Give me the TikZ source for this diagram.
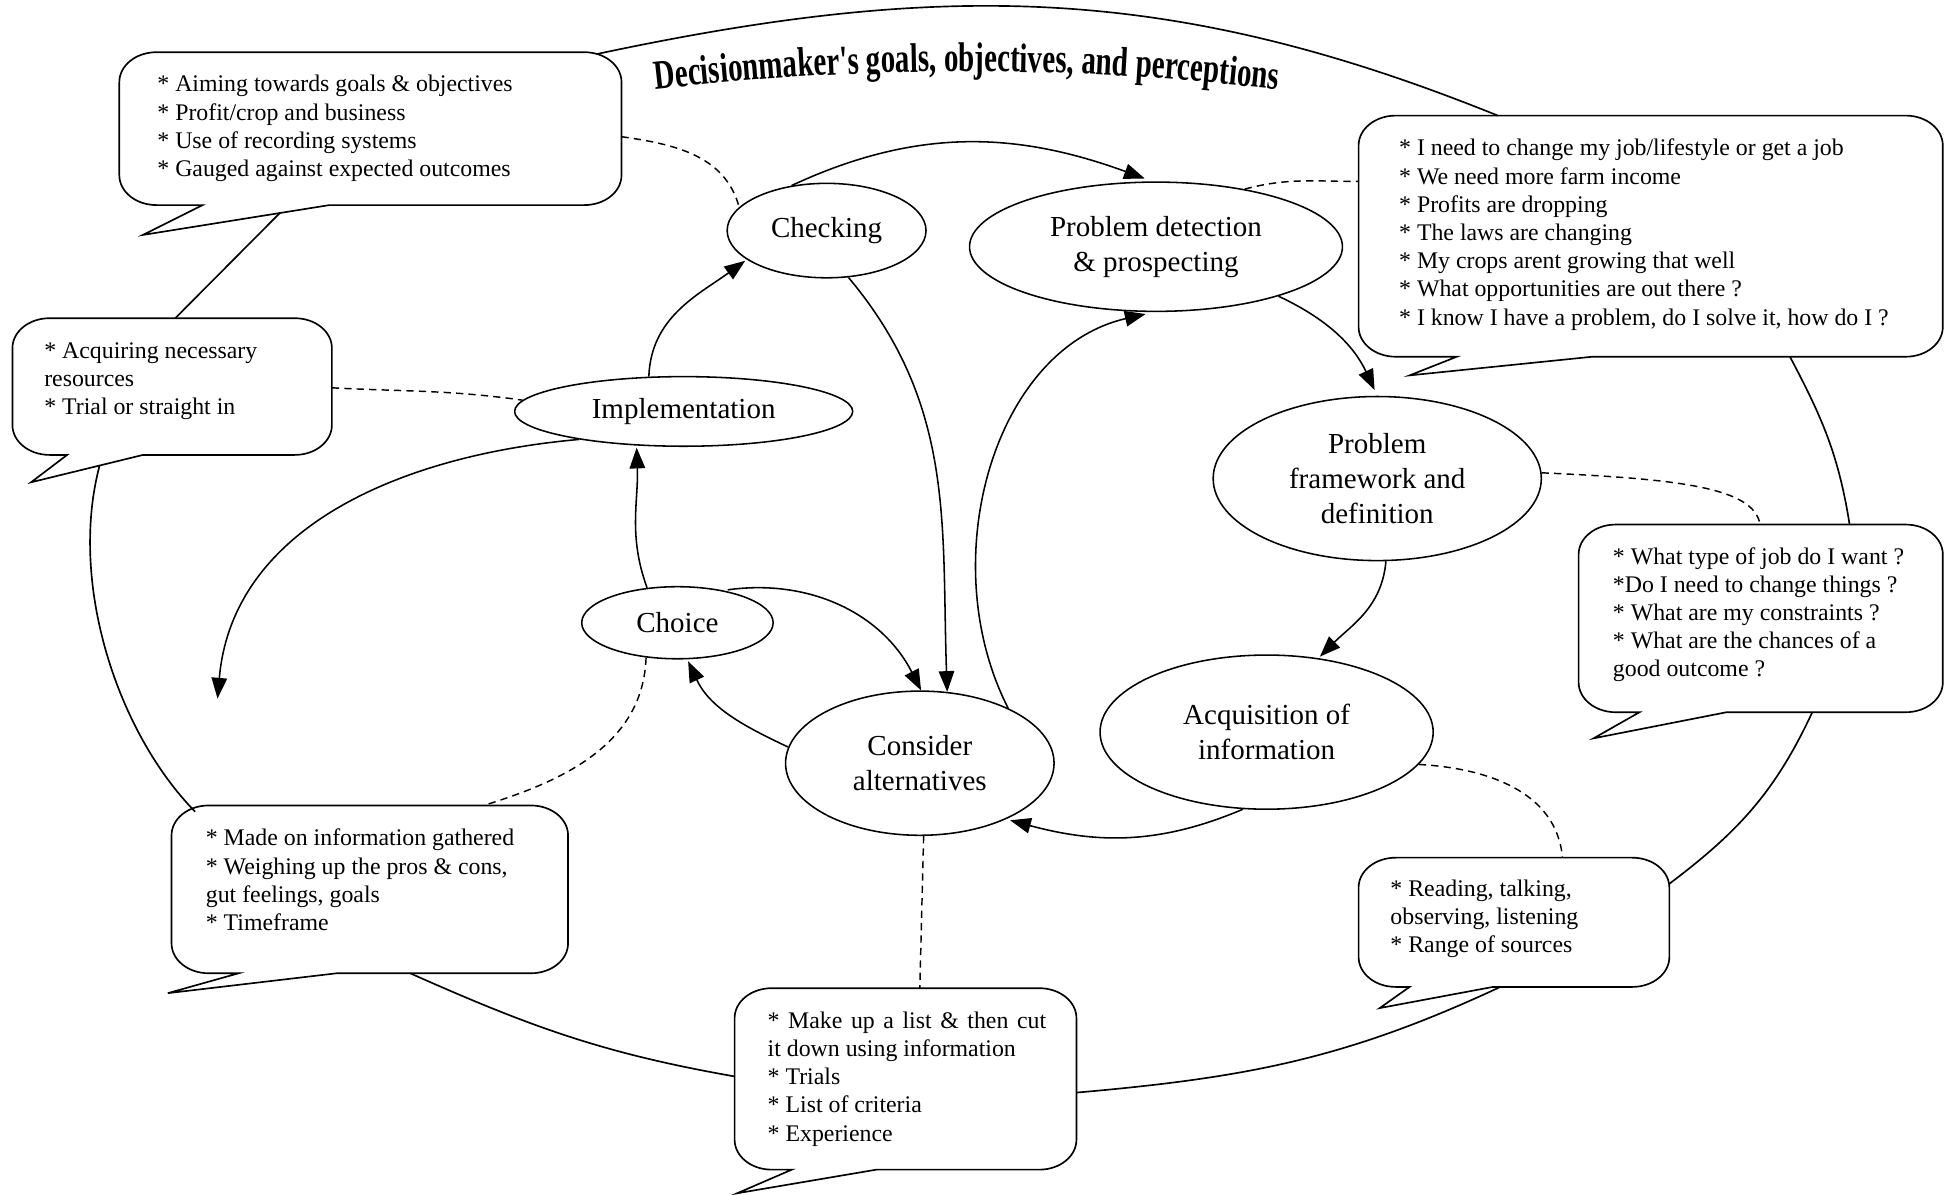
\documentclass[tikz,border=0pt]{standalone}
\usepackage{fontspec}
\setmainfont{Liberation Serif}
\newfontfamily\titlefont{Liberation Serif}[FakeStretch=0.7]
\usetikzlibrary{shapes.geometric,arrows.meta,decorations.text}

% rounded callout with a tail: x1 y1 x2 y2 tailLeftX tipX tipY tailRightX
\newcommand{\cbub}[8]{%
  \draw[cb] (#6,#7) -- (#8,#4) -- ({#3-30},#4)
    .. controls ({#3-13},#4) and (#3,{#4-11}) .. (#3,{#4-24})
    -- (#3,{#2+24})
    .. controls (#3,{#2+11}) and ({#3-13},#2) .. ({#3-30},#2)
    -- ({#1+30},#2)
    .. controls ({#1+13},#2) and (#1,{#2+11}) .. (#1,{#2+24})
    -- (#1,{#4-24})
    .. controls (#1,{#4-11}) and ({#1+13},#4) .. ({#1+30},#4)
    -- (#5,#4) -- cycle;}

\begin{document}
\begin{tikzpicture}[x=0.6pt,y=-0.6pt,line width=0.75pt,
  ell/.style={ellipse,draw,inner sep=0pt,align=center,
    font=\fontsize{14}{16.8}\selectfont},
  cb/.style={draw,line width=0.8pt,fill=white},
  ctext/.style={anchor=base west,align=left,inner sep=0pt,
    font=\fontsize{11.5}{13.6}\selectfont},
  arr/.style={-{Triangle[length=10pt,width=7.5pt]},line width=0.75pt},
  dsh/.style={dash pattern=on 3.5pt off 2.5pt,line width=0.7pt},
  outerline/.style={line width=0.8pt}]
\useasboundingbox (0,0) rectangle (1568,961);

% ---------- callouts ----------
\cbub{96}{42}{500}{165}{163}{115}{189}{265}
\cbub{10}{256}{267}{366}{54}{25}{388}{115}
\cbub{1093}{93}{1563}{287}{1172}{1134}{302}{1281}
\cbub{1270}{422}{1563}{573}{1319}{1282}{594}{1389}
\cbub{138}{648}{457}{783}{192}{135}{799}{271}
\cbub{591}{795}{866}{941}{637}{593}{960}{705}
\cbub{1093}{690}{1343}{794}{1134}{1110}{811}{1201}

% (base anchor = baseline of the last line)
\node[ctext] (tltext) at (126,142) {* Aiming towards goals \& objectives\\{}* Profit/crop and business\\{}* Use of recording systems\\{}* Gauged against expected outcomes};
\node[ctext] (actext) at (35,333.5) {* Acquiring necessary\\resources\\{}* Trial or straight in};
\node[ctext] (trtext) at (1125,261.5) {* I need to change my job/lifestyle or get a job\\{}* We need more farm income\\{}* Profits are dropping\\{}* The laws are changing\\{}* My crops arent growing that well\\{}* What opportunities are out there ?\\{}* I know I have a problem, do I solve it, how do I ?};
\node[ctext] (rttext) at (1297,544.5) {* What type of job do I want ?\\{}*Do I need to change things ?\\{}* What are my constraints ?\\{}* What are the chances of a\\good outcome ?};
\node[ctext] (motext) at (165,748.5) {* Made on information gathered\\{}* Weighing up the pros \& cons,\\gut feelings, goals\\{}* Timeframe};
\node[ctext] (mutext) at (617,918) {\makebox[134.4pt][s]{* Make up a list \& then cut}\\it down using information\\{}* Trials\\{}* List of criteria\\{}* Experience};
\node[ctext] (rdtext) at (1118,766.5) {* Reading, talking,\\observing, listening\\{}* Range of sources};

% anchor points on the callouts
\coordinate (tlT) at (480,43.5);
\coordinate (tlR) at (500,110);
\coordinate (tlB) at (225,171.5);
\coordinate (acT) at (141,256);
\coordinate (acB) at (80,375);
\coordinate (acR) at (267,312);
\coordinate (trT) at (1205,93);
\coordinate (trB) at (1440,287);
\coordinate (trL) at (1093,146);
\coordinate (rtT1) at (1416,422);
\coordinate (rtT2) at (1488,422);
\coordinate (rtB) at (1458,573);
\coordinate (moT) at (389,648);
\coordinate (moTL) at (157,653);
\coordinate (moB) at (330,783);
\coordinate (muT) at (740,795);
\coordinate (muL) at (591,866);
\coordinate (muR) at (866,879);
\coordinate (rdT) at (1257,690);
\coordinate (rdR) at (1343,711);
\coordinate (rdB) at (1207,794);
\coordinate (free) at (175,562);

% ---------- outer loop ----------
\draw[outerline] (tlT) to[out=12,in=158] (trT);
\draw[outerline] (trB) to[out=-62,in=99] (rtT2);
\draw[outerline] (rtB) to[out=-115,in=37] (rdR);
\draw[outerline] (rdB) to[out=205,in=5] (muR);
\draw[outerline] (muL) to[out=170,in=-24] (moB);
\draw[outerline] (moTL) .. controls +(-62,-63) and +(-25,95) .. (acB);
\draw[outerline] (acT) -- (tlB);

% ---------- title ----------
\path[decorate,decoration={text along path,text align=center,
  text={|\titlefont\bfseries\fontsize{20}{21}\selectfont|Decisionmaker's goals, objectives, and perceptions}}]
  (510,74) .. controls (690,52) and (865,52) .. (1045,74);

% ---------- process ellipses ----------
\node[ell,minimum width=96pt,minimum height=45.6pt] (check) at (665,185.5) {Checking};
\node[ell,minimum width=180pt,minimum height=62.4pt] (detect) at (930,198.5) {Problem detection\\\& prospecting};
\node[ell,minimum width=163.2pt,minimum height=33.6pt] (impl) at (550,331) {Implementation};
\node[ell,minimum width=158.4pt,minimum height=79.2pt] (frame) at (1108,385) {Problem\\framework and\\definition};
\node[ell,minimum width=92.4pt,minimum height=34.8pt] (choice) at (545,501) {Choice};
\node[ell,minimum width=129.6pt,minimum height=69.6pt] (consider) at (740,614) {Consider\\alternatives};
\node[ell,minimum width=160.8pt,minimum height=74.4pt] (acq) at (1019,589) {Acquisition of\\information};

% ---------- arrows ----------
\draw[arr,shorten >=4pt] (check.128) to[out=25,in=160] (detect.93);
\draw[arr,shorten >=3pt] (detect.-22) to[out=-25,in=115] (frame.90);
\draw[arr,shorten >=1pt] (frame.-84) to[out=-95,in=45] (acq.55);
\draw[arr,shorten >=2pt] (acq.-107) to[out=203,in=-15] (consider.-33);
\draw[arr,shorten >=4pt] (consider.32) to[out=117,in=193] (detect.-92);
\draw[arr,shorten >=1pt] (consider.173) to[out=155,in=-65] (choice.-75);
\draw[arr,shorten <=2pt] (choice.35) to[out=8,in=117] (consider.89);
\draw[arr] (check.-65) to[out=-50,in=92] (consider.69);
\draw[arr,shorten >=1pt] (choice.131) to[out=110,in=-88] (impl.-144);
\draw[arr,shorten >=1pt] (impl.135) to[out=88,in=-144] (check.-160);
\draw[arr] (impl.-165) to[out=185,in=85] (free);

% ---------- dashed links ----------
\draw[dsh] (tlR) to[out=-8,in=105] (check.165);
\draw[dsh] (detect.33) to[out=15,in=180] (trL);
\draw[dsh] (acR) to[out=-3,in=172] (impl.176);
\draw[dsh] (frame.2) .. controls +(110,5) and +(-5,-30) .. (rtT1);
\draw[dsh] (choice.-132) to[out=-92,in=17] (moT);
\draw[dsh] (consider.-87) -- (muT);
\draw[dsh] (acq.-12) to[out=-3,in=95] (rdT);
\end{tikzpicture}
\end{document}
